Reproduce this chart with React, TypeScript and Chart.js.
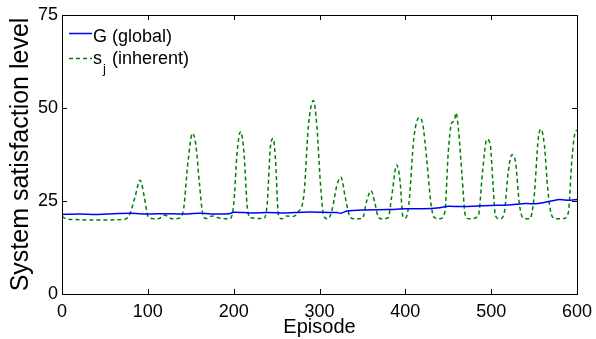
import React, { useEffect, useRef } from "react";
import { Chart, registerables } from "chart.js";

Chart.register(...registerables);

const globalEpisodes = [0, 20, 40, 60, 80, 100, 120, 140, 160, 180, 195, 200, 220, 240, 260, 280, 300, 320, 325, 332, 350, 380, 400, 420, 440, 450, 470, 480, 500, 520, 540, 555, 570, 580, 590, 600];
const globalValues = [21.4, 21.5, 21.4, 21.6, 21.7, 21.5, 21.6, 21.5, 21.7, 21.5, 21.6, 22.0, 21.8, 21.9, 21.8, 22.0, 22.0, 21.9, 21.7, 22.3, 22.6, 22.7, 22.9, 22.9, 23.2, 23.6, 23.5, 23.6, 23.8, 23.9, 24.3, 24.3, 25.0, 25.4, 25.2, 25.4];

const inherentEpisodes = [0, 5, 15, 40, 70, 78, 85, 91, 96, 100, 105, 112, 120, 128, 135, 141, 147, 152, 156, 160, 164, 168, 175, 182, 195, 200, 204, 208, 212, 216, 220, 235, 239, 243, 246, 249, 252, 256, 262, 268, 275, 282, 287, 293, 297, 301, 305, 310, 315, 320, 325, 330, 335, 340, 350, 355, 360, 364, 368, 372, 380, 384, 390, 394, 397, 400, 404, 410, 416, 420, 425, 430, 434, 440, 446, 450, 454, 457, 459, 462, 466, 470, 475, 485, 490, 495, 499, 502, 505, 510, 515, 520, 524, 528, 533, 537, 545, 550, 555, 558, 562, 566, 570, 575, 585, 590, 594, 598, 600];
const inherentValues = [20.8, 20.2, 20, 19.9, 20, 21, 26, 30.6, 26, 21, 20.3, 20.2, 21.2, 20.2, 20.3, 22, 36, 43.2, 40, 30, 21.5, 20.3, 21, 20.5, 20.2, 24, 38, 43.6, 38, 23, 20.5, 20.3, 24, 40, 41.8, 35, 21.5, 20.2, 21, 20.8, 22, 27, 45, 52, 45, 30, 21, 20.2, 23, 29, 31.4, 26, 21, 20.2, 20.3, 25, 27.8, 25, 21, 20.2, 20.5, 26, 34.7, 30, 21, 20.4, 24, 42, 47.4, 46, 36, 24, 20.5, 20.2, 22, 38, 46, 46.5, 48.7, 44, 32, 21, 20.2, 21, 33, 41.6, 40, 30, 21, 20.2, 21.5, 33, 37.4, 36, 24, 20.5, 20.2, 26, 42, 44.3, 40, 28, 21.5, 20.2, 20.3, 22, 36, 43.6, 44];

const xTicks = [0, 100, 200, 300, 400, 500, 600];
const yTicks = [0, 25, 50, 75];

const FONT = "'Liberation Sans', Arial, sans-serif";

const frameAndLegend = {
  id: "frameAndLegend",
  afterDraw(chart: any) {
    const { ctx, chartArea: a, scales } = chart;
    ctx.save();
    ctx.strokeStyle = "#000";
    ctx.lineWidth = 1;
    ctx.strokeRect(Math.round(a.left) + 0.5, Math.round(a.top) + 0.5, Math.round(a.right - a.left), Math.round(a.bottom - a.top));
    const tl = 5;
    ctx.beginPath();
    for (const v of xTicks) {
      const x = Math.round(scales.x.getPixelForValue(v)) + 0.5;
      ctx.moveTo(x, a.bottom);
      ctx.lineTo(x, a.bottom - tl);
      ctx.moveTo(x, a.top);
      ctx.lineTo(x, a.top + tl);
    }
    for (const v of yTicks) {
      const y = Math.round(scales.y.getPixelForValue(v)) + 0.5;
      ctx.moveTo(a.left, y);
      ctx.lineTo(a.left + tl, y);
      ctx.moveTo(a.right, y);
      ctx.lineTo(a.right - tl, y);
    }
    ctx.stroke();

    // legend
    const x0 = a.left + 7;
    const x1 = a.left + 30;
    const tx = a.left + 31;
    const b1 = 42;
    const b2 = 64;
    ctx.lineWidth = 1.5;
    ctx.strokeStyle = "#0000ff";
    ctx.beginPath();
    ctx.moveTo(x0, 33.5);
    ctx.lineTo(x1, 33.5);
    ctx.stroke();
    ctx.strokeStyle = "#008000";
    ctx.setLineDash([4, 3]);
    ctx.beginPath();
    ctx.moveTo(x0, 58.5);
    ctx.lineTo(x1, 58.5);
    ctx.stroke();
    ctx.setLineDash([]);
    ctx.fillStyle = "#000";
    ctx.textBaseline = "alphabetic";
    ctx.font = `18px ${FONT}`;
    ctx.fillText("G (global)", tx, b1);
    ctx.fillText("s", tx, b2);
    const sw = ctx.measureText("s").width;
    ctx.font = `13px ${FONT}`;
    ctx.fillText("j", tx + sw + 1, b2 + 9);
    const jw = ctx.measureText("j").width;
    ctx.font = `18px ${FONT}`;
    ctx.fillText(" (inherent)", tx + sw + jw + 2, b2);
    ctx.restore();
  },
};

export default function App() {
  const ref = useRef<HTMLCanvasElement | null>(null);
  useEffect(() => {
    document.body.style.margin = "0";
    const canvas = ref.current;
    if (!canvas) return;
    const chart = new Chart(canvas, {
      type: "line",
      data: {
        datasets: [
          {
            label: "G (global)",
            data: globalEpisodes.map((x, i) => ({ x, y: globalValues[i] })),
            borderColor: "#0000ff",
            borderWidth: 1.5,
            pointRadius: 0,
            tension: 0.2,
          },
          {
            label: "s_j (inherent)",
            data: inherentEpisodes.map((x, i) => ({ x, y: inherentValues[i] })),
            borderColor: "#008000",
            borderWidth: 1.5,
            borderDash: [4, 3],
            pointRadius: 0,
            cubicInterpolationMode: "monotone",
          },
        ],
      },
      plugins: [frameAndLegend],
      options: {
        responsive: false,
        animation: false,
        layout: { padding: { top: 15, right: 19, left: 0, bottom: 0 } },
        plugins: { legend: { display: false }, tooltip: { enabled: false } },
        scales: {
          x: {
            type: "linear",
            min: 0,
            max: 600,
            afterFit: (s: any) => { s.height = 45; s.paddingLeft = 0; s.paddingRight = 0; },
            afterBuildTicks: (s: any) => { s.ticks = xTicks.map((v) => ({ value: v })); },
            grid: { display: false, drawTicks: false },
            border: { display: false },
            ticks: { color: "#000", font: { family: FONT, size: 18 }, padding: 7, maxRotation: 0 },
            title: { display: true, text: "Episode", color: "#000", font: { family: FONT, size: 20 }, padding: { top: 1, bottom: 0 } },
          },
          y: {
            min: 0,
            max: 75,
            afterFit: (s: any) => { s.width = 62; s.paddingTop = 0; s.paddingBottom = 0; },
            afterBuildTicks: (s: any) => { s.ticks = yTicks.map((v) => ({ value: v })); },
            grid: { display: false, drawTicks: false },
            border: { display: false },
            ticks: { color: "#000", font: { family: FONT, size: 18 }, padding: 4 },
            title: { display: true, text: "System satisfaction level", color: "#000", font: { family: FONT, size: 25 }, padding: { top: 6, bottom: 0 } },
          },
        },
      },
    } as any);
    return () => chart.destroy();
  }, []);
  return <canvas ref={ref} width={596} height={339} style={{ display: "block", width: 596, height: 339 }} />;
}
